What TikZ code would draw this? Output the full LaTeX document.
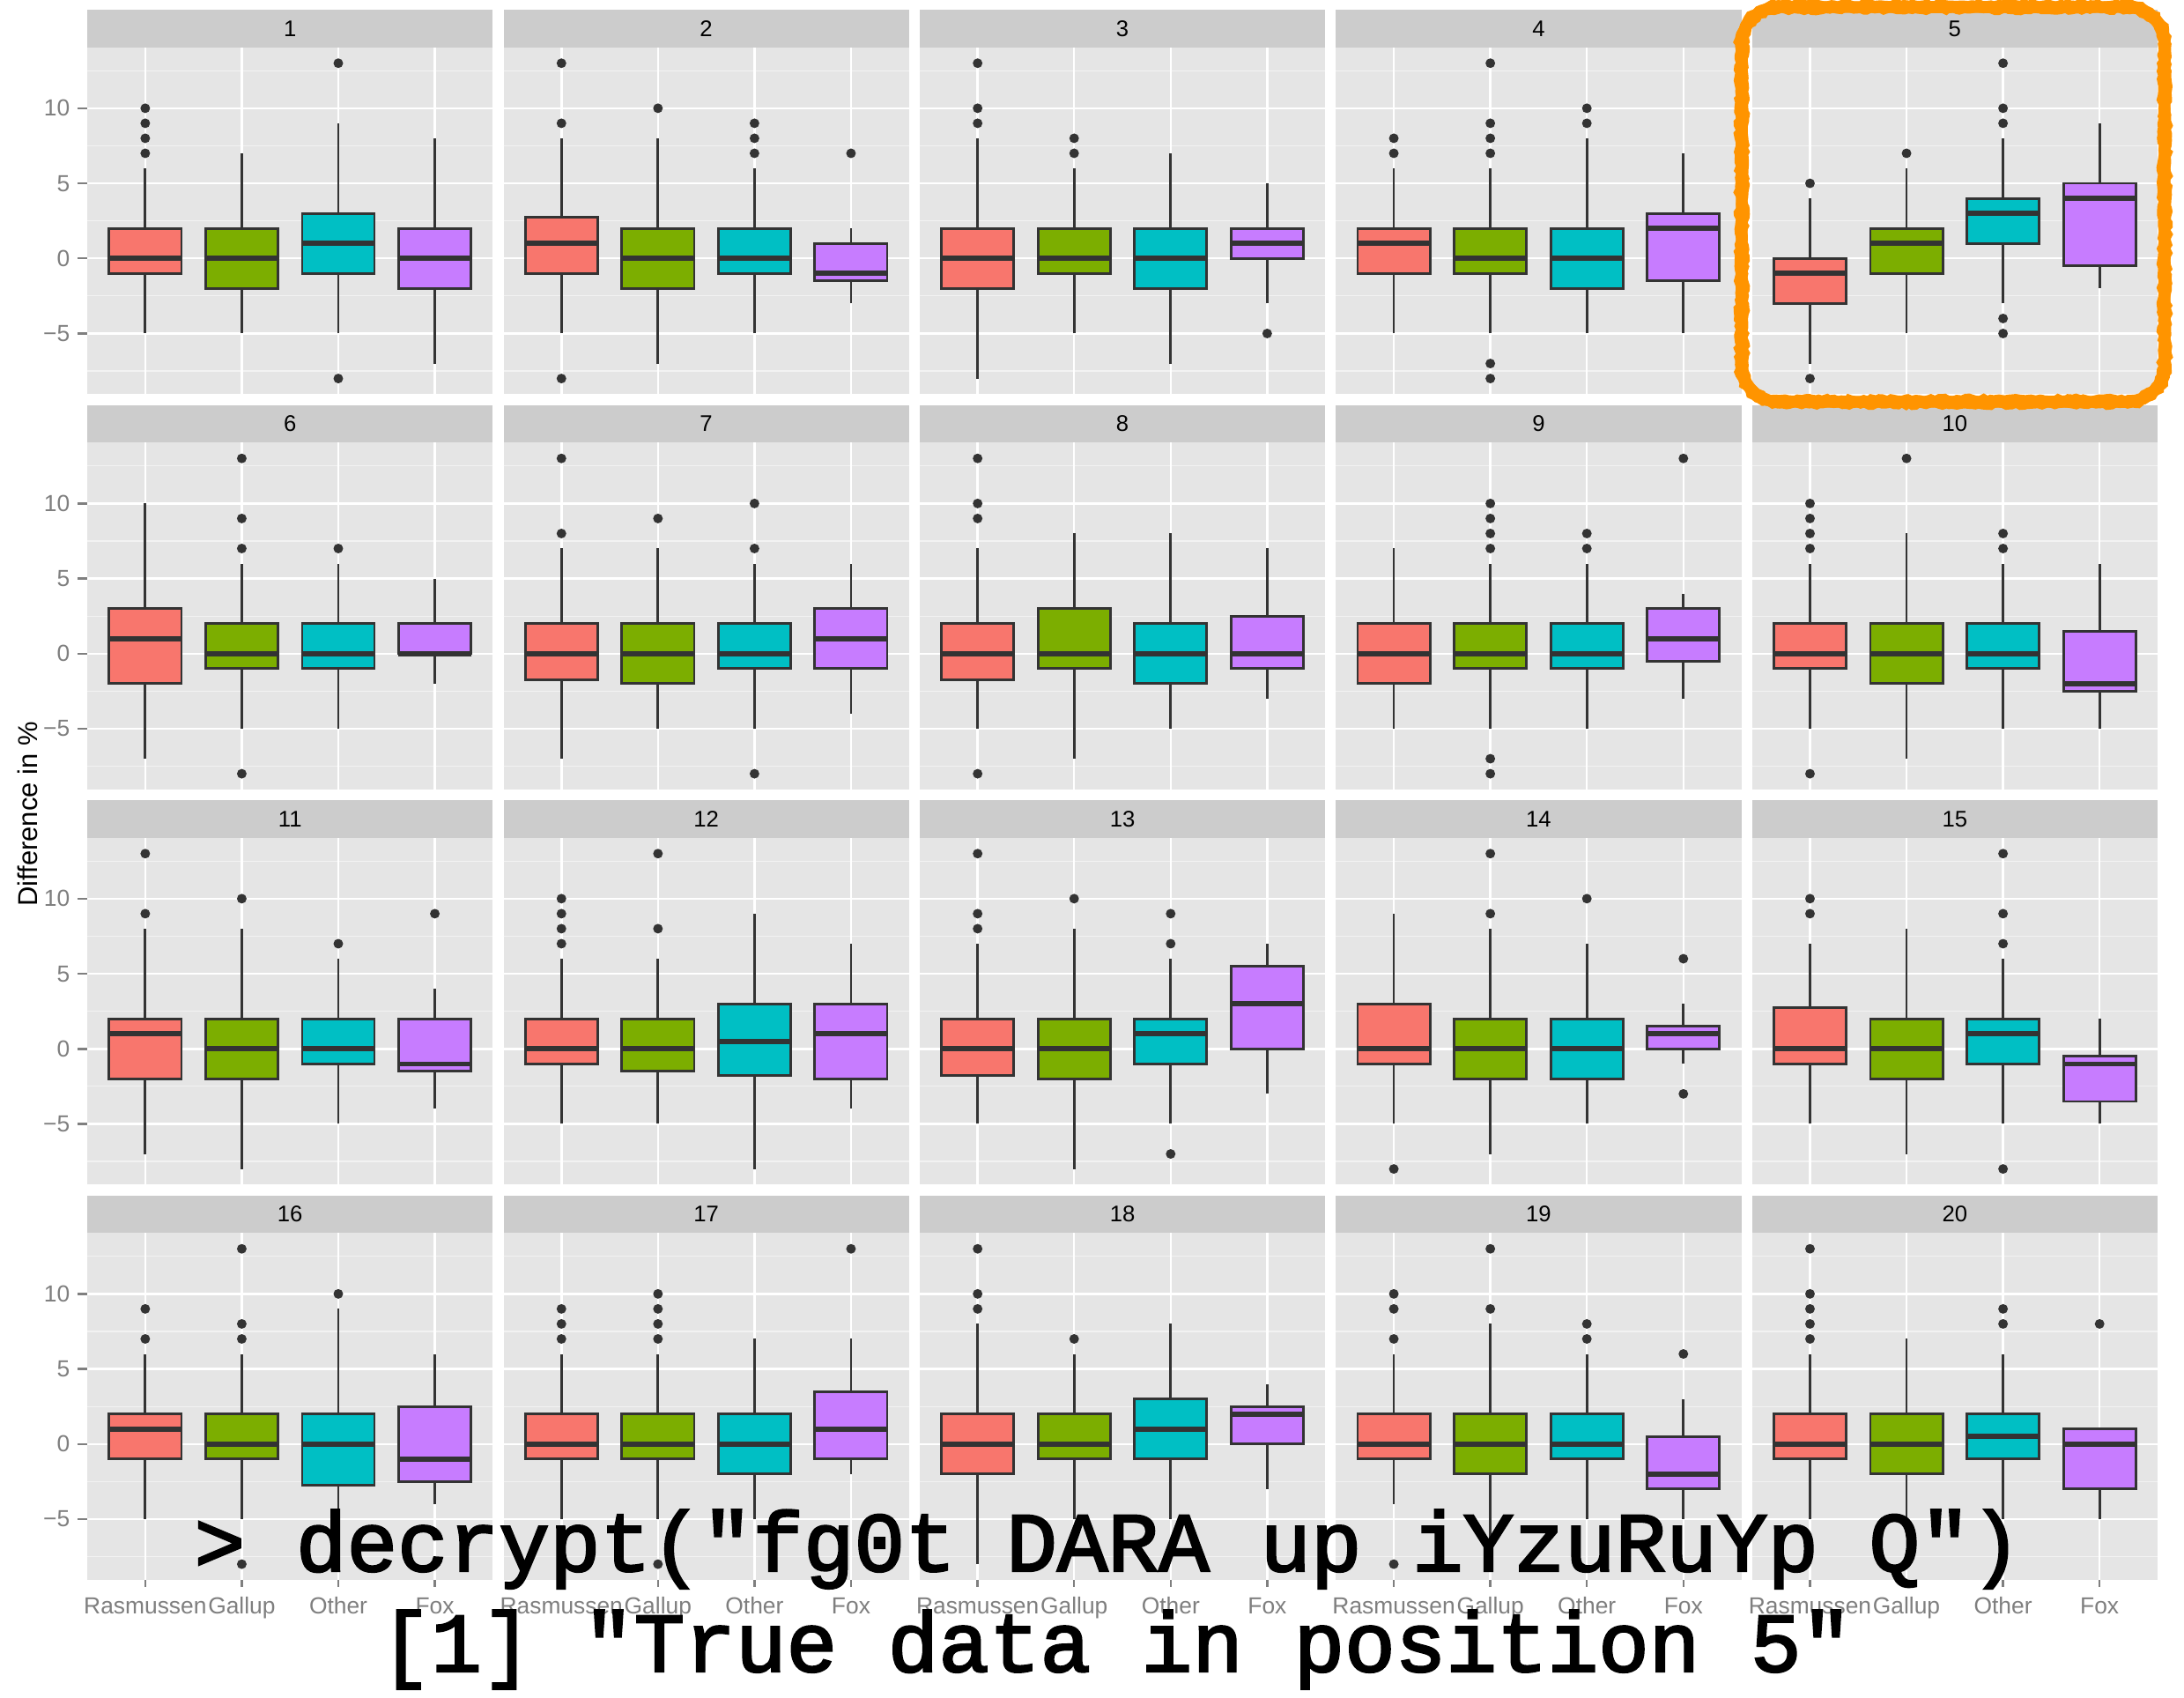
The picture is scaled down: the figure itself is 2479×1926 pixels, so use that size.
\documentclass[tikz,border=0pt]{standalone}
\usepackage{fontspec}
\setmainfont{Liberation Sans}
\newfontfamily\typew[FakeBold=2.5]{Liberation Mono}
\usetikzlibrary{decorations.pathmorphing}
\definecolor{cR}{HTML}{F8766D}
\definecolor{cG}{HTML}{7CAE00}
\definecolor{cO}{HTML}{00BFC4}
\definecolor{cF}{HTML}{C77CFF}
\definecolor{pbg}{HTML}{E5E5E5}
\definecolor{gmn}{HTML}{F2F2F2}
\definecolor{stp}{HTML}{CCCCCC}
\definecolor{gtw}{HTML}{333333}
\definecolor{gfi}{HTML}{7F7F7F}
\definecolor{frameorange}{RGB}{255,148,0}
\tikzset{
  wsk/.style={draw=gtw, line width=0.8pt},
  boxst/.style={draw=gtw, line width=0.8pt},
  medst/.style={draw=gtw, line width=1.6pt},
  outl/.style={fill=gtw},
  gmaj/.style={draw=white, line width=0.7pt},
  gmin/.style={draw=gmn, line width=0.35pt},
  ticklab/.style={text=gfi, font=\fontsize{7.5pt}{8.5pt}\selectfont, inner sep=0pt},
  striplab/.style={text=black, font=\fontsize{7.3pt}{8.5pt}\selectfont, inner sep=0pt},
  tickmark/.style={draw=gfi, line width=0.7pt},
  roughedge/.style={draw=frameorange, line width=1.3pt, decorate,
    decoration={random steps, segment length=1.2pt, amplitude=0.45pt}},
  consoletext/.style={anchor=base west, inner sep=0pt, text=black,
    font=\typew\fontsize{27.3pt}{30pt}\selectfont},
}
% box: k, fill, lower whisker, q1, median, q3, upper whisker, outliers
\newcommand\bxp[8]{%
  \draw[wsk] (#1,#3) -- (#1,#4);
  \draw[wsk] (#1,#6) -- (#1,#7);
  \filldraw[boxst, fill=#2] (#1-0.375,#4) rectangle (#1+0.375,#6);
  \draw[medst] (#1-0.375,#5) -- (#1+0.375,#5);
  \def\olist{#8}%
  \ifx\olist\empty\else
    \foreach \o in {#8} {\fill[outl] (#1,\o) circle[radius=1.56pt];}
  \fi
}
\newcommand\PanelStart[3]{%
  \pgfmathsetmacro\PL{99.1+472.4*#1-43.8}%
  \pgfmathsetmacro\PY{1632.73-448.5*#2}%
  \begin{scope}[shift={(\PL,\PY)}, x=1.095cm, y=0.1703cm]
  \fill[pbg] (0.4,-9.05) rectangle (4.6,14.05);
  \foreach \v in {-7.5,-2.5,2.5,7.5,12.5} {\draw[gmin] (0.4,\v) -- (4.6,\v);}
  \foreach \v in {-5,0,5,10} {\draw[gmaj] (0.4,\v) -- (4.6,\v);}
  \foreach \k in {1,2,3,4} {\draw[gmaj] (\k,-9.05) -- (\k,14.05);}
  \fill[stp] (0.4,14.05) rectangle (4.6,16.546);
  \node[striplab] (strip#3) at (2.5,15.298) {#3};
  \ifnum#1=0
    \foreach \v/\t/\n in {-5/−5/a,0/0/b,5/5/c,10/10/d} {
      \draw[tickmark] (0.3,\v) -- (0.4,\v);
      \node[ticklab, anchor=east] (yt#3\n) at (0.2256,\v) {\t};
    }
  \fi
  \ifnum#2=3
    \foreach \k/\t/\n in {1/Rasmussen/a,2/Gallup/b,3/Other/c,4/Fox/d} {
      \draw[tickmark] (\k,-9.05) -- (\k,-9.52);
      \node[ticklab, anchor=base] (xl#3\n) at (\k,-11.29) {\t};
    }
  \fi
}
\newcommand\PanelEnd{\end{scope}}
\begin{document}
\begin{tikzpicture}[x=0.01cm, y=0.01cm]
\pgfmathsetseed{7}
\fill[white] (0,0) rectangle (2479,1926);
\useasboundingbox (0,0) rectangle (2479,1926);
% ---------------- row 1
\PanelStart{0}{0}{1}
\bxp{1}{cR}{-5}{-1}{0}{2}{6}{7,8,9,10}
\bxp{2}{cG}{-5}{-2}{0}{2}{7}{}
\bxp{3}{cO}{-5}{-1}{1}{3}{9}{13,-8}
\bxp{4}{cF}{-7}{-2}{0}{2}{8}{}
\PanelEnd
\PanelStart{1}{0}{2}
\bxp{1}{cR}{-5}{-1}{1}{2.75}{8}{13,9,-8}
\bxp{2}{cG}{-7}{-2}{0}{2}{8}{10}
\bxp{3}{cO}{-5}{-1}{0}{2}{6}{9,8,7}
\bxp{4}{cF}{-3}{-1.5}{-1}{1}{2}{7}
\PanelEnd
\PanelStart{2}{0}{3}
\bxp{1}{cR}{-8}{-2}{0}{2}{8}{13,10,9}
\bxp{2}{cG}{-5}{-1}{0}{2}{6}{8,7}
\bxp{3}{cO}{-7}{-2}{0}{2}{7}{}
\bxp{4}{cF}{-3}{0}{1}{2}{5}{-5}
\PanelEnd
\PanelStart{3}{0}{4}
\bxp{1}{cR}{-5}{-1}{1}{2}{6}{8,7}
\bxp{2}{cG}{-5}{-1}{0}{2}{6}{13,9,8,7,-7,-8}
\bxp{3}{cO}{-5}{-2}{0}{2}{8}{10,9}
\bxp{4}{cF}{-5}{-1.5}{2}{3}{7}{}
\PanelEnd
\PanelStart{4}{0}{5}
\bxp{1}{cR}{-7}{-3}{-1}{0}{4}{5,-8}
\bxp{2}{cG}{-5}{-1}{1}{2}{6}{7}
\bxp{3}{cO}{-3}{1}{3}{4}{8}{13,10,9,-4,-5}
\bxp{4}{cF}{-2}{-0.5}{4}{5}{9}{}
\PanelEnd
% ---------------- row 2
\PanelStart{0}{1}{6}
\bxp{1}{cR}{-7}{-2}{1}{3}{10}{}
\bxp{2}{cG}{-5}{-1}{0}{2}{6}{13,9,7,-8}
\bxp{3}{cO}{-5}{-1}{0}{2}{6}{7}
\bxp{4}{cF}{-2}{0}{0}{2}{5}{}
\PanelEnd
\PanelStart{1}{1}{7}
\bxp{1}{cR}{-7}{-1.75}{0}{2}{7}{13,8}
\bxp{2}{cG}{-5}{-2}{0}{2}{7}{9}
\bxp{3}{cO}{-5}{-1}{0}{2}{6}{10,7,-8}
\bxp{4}{cF}{-4}{-1}{1}{3}{6}{}
\PanelEnd
\PanelStart{2}{1}{8}
\bxp{1}{cR}{-5}{-1.75}{0}{2}{7}{13,10,9,-8}
\bxp{2}{cG}{-7}{-1}{0}{3}{8}{}
\bxp{3}{cO}{-5}{-2}{0}{2}{8}{}
\bxp{4}{cF}{-3}{-1}{0}{2.5}{7}{}
\PanelEnd
\PanelStart{3}{1}{9}
\bxp{1}{cR}{-5}{-2}{0}{2}{7}{}
\bxp{2}{cG}{-5}{-1}{0}{2}{6}{10,9,8,7,-7,-8}
\bxp{3}{cO}{-5}{-1}{0}{2}{6}{8,7}
\bxp{4}{cF}{-3}{-0.5}{1}{3}{4}{13}
\PanelEnd
\PanelStart{4}{1}{10}
\bxp{1}{cR}{-5}{-1}{0}{2}{6}{10,9,8,7,-8}
\bxp{2}{cG}{-7}{-2}{0}{2}{8}{13}
\bxp{3}{cO}{-5}{-1}{0}{2}{6}{8,7}
\bxp{4}{cF}{-5}{-2.5}{-2}{1.5}{6}{}
\PanelEnd
% ---------------- row 3
\PanelStart{0}{2}{11}
\bxp{1}{cR}{-7}{-2}{1}{2}{8}{13,9}
\bxp{2}{cG}{-8}{-2}{0}{2}{8}{10}
\bxp{3}{cO}{-5}{-1}{0}{2}{6}{7}
\bxp{4}{cF}{-4}{-1.5}{-1}{2}{4}{9}
\PanelEnd
\PanelStart{1}{2}{12}
\bxp{1}{cR}{-5}{-1}{0}{2}{6}{10,9,8,7}
\bxp{2}{cG}{-5}{-1.5}{0}{2}{6}{13,8}
\bxp{3}{cO}{-8}{-1.75}{0.5}{3}{9}{}
\bxp{4}{cF}{-4}{-2}{1}{3}{7}{}
\PanelEnd
\PanelStart{2}{2}{13}
\bxp{1}{cR}{-5}{-1.75}{0}{2}{7}{13,9,8}
\bxp{2}{cG}{-8}{-2}{0}{2}{8}{10}
\bxp{3}{cO}{-5}{-1}{1}{2}{6}{9,7,-7}
\bxp{4}{cF}{-3}{0}{3}{5.5}{7}{}
\PanelEnd
\PanelStart{3}{2}{14}
\bxp{1}{cR}{-5}{-1}{0}{3}{9}{-8}
\bxp{2}{cG}{-7}{-2}{0}{2}{8}{13,9}
\bxp{3}{cO}{-5}{-2}{0}{2}{7}{10}
\bxp{4}{cF}{-1}{0}{1}{1.5}{3}{6,-3}
\PanelEnd
\PanelStart{4}{2}{15}
\bxp{1}{cR}{-5}{-1}{0}{2.75}{7}{10,9}
\bxp{2}{cG}{-7}{-2}{0}{2}{8}{}
\bxp{3}{cO}{-5}{-1}{1}{2}{6}{13,9,7,-8}
\bxp{4}{cF}{-5}{-3.5}{-1}{-0.5}{2}{}
\PanelEnd
% ---------------- row 4
\PanelStart{0}{3}{16}
\bxp{1}{cR}{-5}{-1}{1}{2}{6}{9,7}
\bxp{2}{cG}{-5}{-1}{0}{2}{6}{13,8,7,-8}
\bxp{3}{cO}{-7}{-2.75}{0}{2}{9}{10}
\bxp{4}{cF}{-4}{-2.5}{-1}{2.5}{6}{}
\PanelEnd
\PanelStart{1}{3}{17}
\bxp{1}{cR}{-5}{-1}{0}{2}{6}{9,8,7}
\bxp{2}{cG}{-5}{-1}{0}{2}{6}{10,9,8,7,-8}
\bxp{3}{cO}{-5}{-2}{0}{2}{7}{}
\bxp{4}{cF}{-2}{-1}{1}{3.5}{7}{13}
\PanelEnd
\PanelStart{2}{3}{18}
\bxp{1}{cR}{-8}{-2}{0}{2}{8}{13,10,9}
\bxp{2}{cG}{-5}{-1}{0}{2}{6}{7}
\bxp{3}{cO}{-5}{-1}{1}{3}{8}{}
\bxp{4}{cF}{-3}{0}{2}{2.5}{4}{}
\PanelEnd
\PanelStart{3}{3}{19}
\bxp{1}{cR}{-4}{-1}{0}{2}{6}{10,9,7,-8}
\bxp{2}{cG}{-7}{-2}{0}{2}{8}{13,9}
\bxp{3}{cO}{-5}{-1}{0}{2}{6}{8,7}
\bxp{4}{cF}{-5}{-3}{-2}{0.5}{3}{6}
\PanelEnd
\PanelStart{4}{3}{20}
\bxp{1}{cR}{-5}{-1}{0}{2}{6}{13,10,9,8,7}
\bxp{2}{cG}{-6}{-2}{0}{2}{7}{}
\bxp{3}{cO}{-5}{-1}{0.5}{2}{6}{9,8}
\bxp{4}{cF}{-5}{-3}{0}{1}{1}{8}
\PanelEnd
% ---------------- axis title
\node[rotate=90, inner sep=0pt, font=\fontsize{8.8pt}{10pt}\selectfont] (ytitle) at (31,1002) {Difference in \%};
% ---------------- highlight frame around panel 5
\draw[draw=frameorange, line width=3.8pt]
  (2019,1470) -- (2415,1470) arc[start angle=-90, end angle=0, radius=42]
  -- (2457,1876) arc[start angle=0, end angle=90, radius=42]
  -- (2019,1918) arc[start angle=90, end angle=180, radius=42]
  -- (1977,1512) arc[start angle=180, end angle=270, radius=42] -- cycle;
\draw[roughedge]
  (2019,1464.5) -- (2415,1464.5) arc[start angle=-90, end angle=0, radius=47.5]
  -- (2462.5,1876) arc[start angle=0, end angle=90, radius=47.5]
  -- (2019,1923.5) arc[start angle=90, end angle=180, radius=47.5]
  -- (1971.5,1512) arc[start angle=180, end angle=270, radius=47.5] -- cycle;
\draw[roughedge]
  (2019,1475.5) -- (2415,1475.5) arc[start angle=-90, end angle=0, radius=36.5]
  -- (2451.5,1876) arc[start angle=0, end angle=90, radius=36.5]
  -- (2019,1912.5) arc[start angle=90, end angle=180, radius=36.5]
  -- (1982.5,1512) arc[start angle=180, end angle=270, radius=36.5] -- cycle;
% ---------------- overlay console text
\node[consoletext] (cmdline) at (220,143) {> decrypt("fg0t DARA up iYzuRuYp Q")};
\node[consoletext] (resultline) at (431,29) {[1] "True data in position 5"};
\end{tikzpicture}
\end{document}
